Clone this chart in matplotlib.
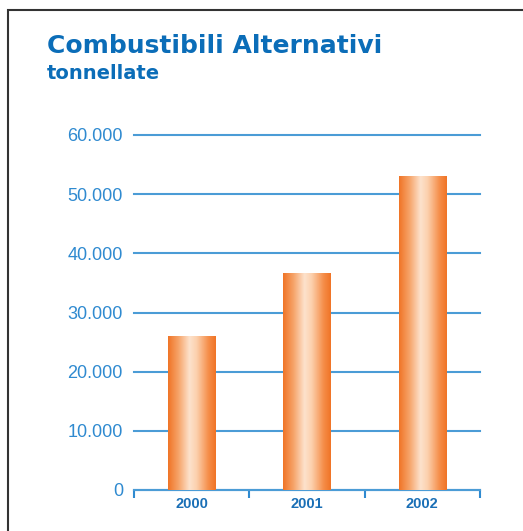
import numpy as np
import matplotlib
matplotlib.use('Agg')
import matplotlib.pyplot as plt
from matplotlib.patches import Rectangle
from matplotlib.colors import LinearSegmentedColormap

# data
anni = ['2000', '2001', '2002']
tonnellate = [26000, 36600, 53000]
y_ticks = [0, 10000, 20000, 30000, 40000, 50000, 60000]
y_labels = ['0', '10.000', '20.000', '30.000', '40.000', '50.000', '60.000']

BLUE_TITLE = '#0b6db8'
BLUE_GRID = '#4b9cd6'
BLUE_TICK = '#2f8ad0'
BLUE_CAT = '#1a6fb6'

fig = plt.figure(figsize=(5.23, 5.31), dpi=100)
fig.patch.set_facecolor('white')

# outer frame (open at right and bottom)
fig.add_artist(Rectangle((8 / 523, -0.1), 1.2, 1.1 - 10 / 531, transform=fig.transFigure,
                         fill=False, edgecolor='#333333', linewidth=1.5))

fig.text(47 / 523, 1 - 53 / 531, 'Combustibili Alternativi', fontsize=18, fontweight='bold',
         color=BLUE_TITLE, va='baseline', ha='left', family='DejaVu Sans')
fig.text(47 / 523, 1 - 79 / 531, 'tonnellate', fontsize=14, fontweight='bold',
         color=BLUE_TITLE, va='baseline', ha='left', family='DejaVu Sans')

ax = fig.add_axes([134 / 523, 41 / 531, 346 / 523, 355 / 531])
x = np.arange(len(anni))
bars = ax.bar(x, tonnellate, width=0.41, color='none', zorder=3)

# horizontal gradient inside each bar
cmap = LinearSegmentedColormap.from_list('arancio', [
    (0.0, '#f07426'), (0.22, '#f6a46a'), (0.45, '#fde2cc'),
    (0.6, '#fcd0ad'), (0.85, '#f58d48'), (1.0, '#f07426')])
grad = np.linspace(0, 1, 256).reshape(1, -1)
for b in bars:
    x0, y0 = b.get_x(), b.get_y()
    ax.imshow(grad, cmap=cmap, aspect='auto', interpolation='bilinear',
              extent=(x0, x0 + b.get_width(), y0, y0 + b.get_height()), zorder=3)

ax.set_xlim(-0.5, len(anni) - 0.5)
ax.set_ylim(0, 60000)

ax.set_yticks(y_ticks)
ax.set_yticklabels(y_labels, fontsize=13, color=BLUE_TICK, family='Liberation Sans')
ax.tick_params(axis='y', length=0, pad=8)
ax.yaxis.grid(True, color=BLUE_GRID, linewidth=1.5, zorder=1)
for gl in ax.get_ygridlines():
    gl.set_clip_on(False)
ax.set_axisbelow(True)

ax.set_xticks(np.arange(len(anni) + 1) - 0.5)
ax.set_xticklabels([])
ax.set_xticks(x, minor=True)
ax.set_xticklabels(anni, minor=True, fontsize=10.5, fontweight='bold', color=BLUE_CAT,
                   family='Liberation Sans')
ax.tick_params(axis='x', which='major', length=6, width=1.5, color=BLUE_TICK, direction='out')
ax.tick_params(axis='x', which='minor', length=0, pad=5)

for s in ['top', 'right', 'left']:
    ax.spines[s].set_visible(False)
ax.spines['bottom'].set_color(BLUE_GRID)
ax.spines['bottom'].set_linewidth(1.5)
ax.patch.set_alpha(0)

fig.savefig('out.png', dpi=100)
